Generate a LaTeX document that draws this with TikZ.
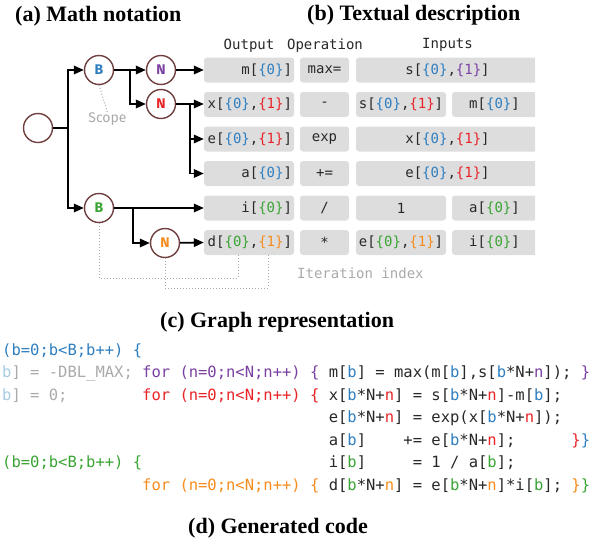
\documentclass[tikz,border=0pt]{standalone}
\usepackage{fontspec}
\setmainfont{Liberation Serif}
\setmonofont{DejaVu Sans Mono}
\newfontfamily\labelfont{Fira Sans}
\usetikzlibrary{arrows.meta}

\definecolor{cBlue}{RGB}{46,126,192}
\definecolor{cRed}{RGB}{232,36,40}
\definecolor{cPurple}{RGB}{122,64,162}
\definecolor{cGreen}{RGB}{58,164,52}
\definecolor{cOrange}{RGB}{246,140,30}
\definecolor{cLightBlue}{RGB}{166,203,227}
\definecolor{cGray}{RGB}{170,170,170}
\definecolor{cBox}{RGB}{221,221,221}
\definecolor{cText}{RGB}{40,40,40}
\definecolor{cRing}{RGB}{112,64,64}

\newcommand\cBl[1]{\textcolor{cBlue}{#1}}
\newcommand\cRd[1]{\textcolor{cRed}{#1}}
\newcommand\cPu[1]{\textcolor{cPurple}{#1}}
\newcommand\cGr[1]{\textcolor{cGreen}{#1}}
\newcommand\cOr[1]{\textcolor{cOrange}{#1}}
\newcommand\cLb[1]{\textcolor{cLightBlue}{#1}}
\newcommand\cGy[1]{\textcolor{cGray}{#1}}

\newcommand\headfont{\fontsize{22}{24}\selectfont\bfseries}
\newcommand\tabfont{\ttfamily\fontsize{14}{16}\selectfont}
\newcommand\codefont{\ttfamily\fontsize{15.5}{18}\selectfont\frenchspacing}
% one column of the 15.5pt monospace code font (0.602em)
\newlength\colw
\setlength\colw{9.332pt}
\newcommand\cols[1]{\hspace*{#1\colw}}

\tikzset{
  ring/.style={circle, draw=cRing, line width=1.4pt, fill=white,
    minimum size=29pt, inner sep=0pt,
    font=\labelfont\bfseries\fontsize{14}{14}\selectfont},
  wire/.style={line width=1.8pt},
  feed/.style={wire, -{Triangle[length=10pt,width=8.5pt]}},
  cell/.style={rectangle, rounded corners=3pt, fill=cBox, text=cText,
    minimum height=25pt, inner sep=0pt, font=\tabfont},
  outcell/.style={cell, text width=86pt, align=right, inner xsep=2pt},
  opcell/.style={cell, minimum width=49pt},
  widecell/.style={cell, minimum width=183pt},
  halfcell/.style={cell, minimum width=90pt},
  restcell/.style={cell, minimum width=85pt},
  colhead/.style={anchor=base, inner sep=0pt, font=\tabfont, text=cText},
  heading/.style={anchor=base west, inner sep=0pt, font=\headfont},
  codeline/.style={anchor=base west, inner sep=0pt, font=\codefont, text=cText},
  hint/.style={cGray, line width=1pt, dotted},
}

\begin{document}
\begin{tikzpicture}[x=1pt,y=-1pt]
\useasboundingbox (0,0) rectangle (615,544);

% panel titles
\node[heading] (ta) at (15,21) {(a) Math notation};
\node[heading] (tb) at (307,20) {(b) Textual description};
\node[heading] (tc) at (160,327) {(c) Graph representation};
\node[heading] (td) at (188,533) {(d) Generated code};

% column headers
\node[colhead] (hout) at (249,49) {Output};
\node[colhead] (hop) at (325,49) {Operation};
\node[colhead] (hin) at (447.5,48) {Inputs};

% output column
\node[outcell] (om) at (249,70)    {m[\cBl{\{0\}}]};
\node[outcell] (ox) at (249,104.5) {x[\cBl{\{0\}},\cRd{\{1\}}]};
\node[outcell] (oe) at (249,139)   {e[\cBl{\{0\}},\cRd{\{1\}}]};
\node[outcell] (oa) at (249,173.5) {a[\cBl{\{0\}}]};
\node[outcell] (oi) at (249,208)   {i[\cGr{\{0\}}]};
\node[outcell] (od) at (249,242.5) {d[\cGr{\{0\}},\cOr{\{1\}}]};

% operation column
\node[opcell] (pm) at (324.5,70)    {max=};
\node[opcell] (px) at (324.5,104.5) {-};
\node[opcell] (pe) at (324.5,139)   {exp};
\node[opcell] (pa) at (324.5,173.5) {+=};
\node[opcell] (pi) at (324.5,208)   {/};
\node[opcell] (pd) at (324.5,242.5) {*};

% input columns, cut off at the right margin
\begin{scope}
\clip (350,0) rectangle (535,300);
\node[widecell] (im)  at (447.5,70)    {s[\cBl{\{0\}},\cPu{\{1\}}]};
\node[halfcell] (ix1) at (401,104.5)   {s[\cBl{\{0\}},\cRd{\{1\}}]};
\node[restcell] (ix2) at (494.5,104.5) {m[\cBl{\{0\}}]};
\node[widecell] (ie)  at (447.5,139)   {x[\cBl{\{0\}},\cRd{\{1\}}]};
\node[widecell] (ia)  at (447.5,173.5) {e[\cBl{\{0\}},\cRd{\{1\}}]};
\node[halfcell] (ii1) at (401,208)     {1};
\node[restcell] (ii2) at (494.5,208)   {a[\cGr{\{0\}}]};
\node[halfcell] (id1) at (401,242.5)   {e[\cGr{\{0\}},\cOr{\{1\}}]};
\node[restcell] (id2) at (494.5,242.5) {i[\cGr{\{0\}}]};
\end{scope}

% loop tree
\node[ring] (root) at (38,128) {};
\node[ring, text=cBlue]   (B1) at (99,70)   {B};
\node[ring, text=cPurple] (N1) at (161,70)  {N};
\node[ring, text=cRed]    (N2) at (161,104) {N};
\node[ring, text=cGreen]  (B2) at (99,208)  {B};
\node[ring, text=cOrange] (N3) at (165,243) {N};

\coordinate (j0) at (68,128);
\coordinate (j1) at (130,70);
\coordinate (j2) at (190,104);
\coordinate (j3) at (133,208);

\draw[wire] (root) -- (j0);
\draw[feed] (j0) |- (B1);
\draw[feed] (j0) |- (B2);
\draw[feed] (B1) -- (N1);
\draw[feed] (j1) |- (N2);
\draw[feed] (N1) -- (om.west);
\draw[feed] (N2) -- (j2) -- (ox.west |- j2);
\draw[feed] (j2) |- (oe.west);
\draw[feed] (j2) |- (oa.west);
\draw[feed] (B2) -- (oi.west);
\draw[feed] (j3) |- (N3);
\draw[feed] (N3) -- (od.west);

% scope and iteration index hints
\node[font=\labelfont\fontsize{14}{14}\selectfont, text=cGray, inner sep=0pt]
  (scope) at (107.5,119) {Scope};
\draw[hint] (B1.south) -- (scope.north);
\coordinate (ixb) at (238,255);
\coordinate (ixn) at (268,255);
\draw[hint] (B2.south) -- ++(0,55) -| (ixb);
\draw[hint] (N3.south) -- ++(0,30) -| (ixn);
\node[anchor=base west, inner sep=0pt, font=\tabfont, text=cGray]
  (iter) at (297,278) {Iteration index};

% generated code
\node[codeline] (c1) at (2,355) {\cBl{(b=0;b<B;b++)~\{}};
\node[codeline] (c2) at (2,377.5) {\cLb{b}\cGy{]~=~-DBL\_MAX;}~\cPu{for~(n=0;n<N;n++)~\{}~m[\cBl{b}]~=~max(m[\cBl{b}],s[\cBl{b}*N+\cPu{n}]);~\cPu{\}}};
\node[codeline] (c3) at (2,400) {\cLb{b}\cGy{]~=~0;}\cols{8}\cRd{for~(n=0;n<N;n++)~\{}~x[\cBl{b}*N+\cRd{n}]~=~s[\cBl{b}*N+\cRd{n}]-m[\cBl{b}];};
\node[codeline] (c4) at (2,422.5) {\cols{35}e[\cBl{b}*N+\cRd{n}]~=~exp(x[\cBl{b}*N+\cRd{n}]);};
\node[codeline] (c5) at (2,445) {\cols{35}a[\cBl{b}]\cols{4}+=~e[\cBl{b}*N+\cRd{n}];\cols{6}\cRd{\}}\cBl{\}}};
\node[codeline] (c6) at (2,467.5) {\cGr{(b=0;b<B;b++)~\{}\cols{20}i[\cGr{b}]\cols{5}=~1~/~a[\cGr{b}];};
\node[codeline] (c7) at (2,490) {\cols{15}\cOr{for~(n=0;n<N;n++)~\{}~d[\cGr{b}*N+\cOr{n}]~=~e[\cGr{b}*N+\cOr{n}]*i[\cGr{b}];~\cOr{\}}\cGr{\}}};
\end{tikzpicture}
\end{document}
